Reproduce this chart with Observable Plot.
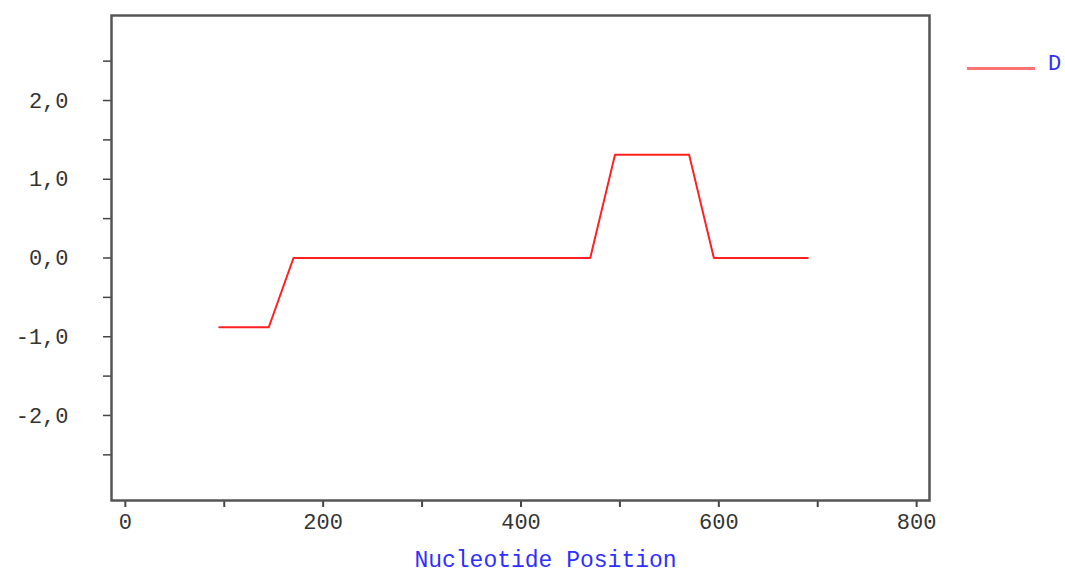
<!DOCTYPE html>
<html>
<head>
<meta charset="utf-8">
<script src="https://cdn.jsdelivr.net/npm/d3@7"></script>
<script src="https://cdn.jsdelivr.net/npm/@observablehq/plot@0.6"></script>
<style>
  html, body { margin: 0; padding: 0; background: #fff; }
  #wrap { position: relative; width: 1065px; height: 574px; }
  #legend { position: absolute; left: 967px; top: 52px; display: flex; align-items: center; font-family: "Liberation Mono", monospace; font-size: 22px; color: #2f2fff; }
  #legend .sw { width: 68px; height: 3px; background: #ff7373; margin-right: 13px; position: relative; top: 4px; }
</style>
</head>
<body>
<div id="wrap"><div id="legend"><span class="sw"></span><span>D</span></div></div>
<script>
const seriesName = "D";
const positions = [95, 120, 145, 170, 195, 220, 245, 270, 295, 320, 345, 370, 395, 420, 445, 470, 495, 520, 545, 570, 595, 620, 645, 670, 690];
const dValues   = [-0.88, -0.88, -0.88, 0, 0, 0, 0, 0, 0, 0, 0, 0, 0, 0, 0, 0, 1.31, 1.31, 1.31, 1.31, 0, 0, 0, 0, 0];
const xTicks = [0, 100, 200, 300, 400, 500, 600, 700, 800];
const xTickLabels = ["0", "", "200", "", "400", "", "600", "", "800"];
const yTicks = [-2.5, -2, -1.5, -1, -0.5, 0, 0.5, 1, 1.5, 2, 2.5];
const yTickLabels = ["", "-2,0", "", "-1,0", "", "0,0", "", "1,0", "", "2,0", ""];
const xLabel = "Nucleotide Position";

const data = positions.map((x, i) => ({x, y: dValues[i], s: seriesName}));

const chart = Plot.plot({
  width: 1065,
  height: 574,
  marginLeft: 111,
  marginRight: 136,
  marginTop: 15,
  marginBottom: 74,
  style: {fontFamily: "'Liberation Mono', monospace", fontSize: "22px", color: "#333", background: "#fff"},
  x: {domain: [-14, 813]},
  y: {domain: [-3.08, 3.08]},
  marks: [
    Plot.axisX({ticks: xTicks, tickFormat: d => xTickLabels[xTicks.indexOf(d)], tickSize: 7, tickPadding: 6, stroke: "#444", strokeWidth: 2, label: null, fill: "#333"}),
    Plot.axisY({ticks: yTicks, tickFormat: d => yTickLabels[yTicks.indexOf(d)], tickSize: 8, tickPadding: 35, stroke: "#444", strokeWidth: 1.5, label: null, fill: "#333"}),
    Plot.line(data, {x: "x", y: "y", stroke: "#ff2020", strokeWidth: 2}),
    Plot.frame({stroke: "#555", strokeWidth: 2.5}),
    Plot.text([xLabel], {text: d => d, frameAnchor: "bottom", dx: 25, dy: 66, fill: "#2f2fff", fontSize: 23, fontFamily: "'Liberation Mono', monospace"})
  ]
});
document.getElementById("wrap").prepend(chart);
chart.style.position = "absolute";
chart.style.left = "0";
chart.style.top = "0";
</script>
</body>
</html>
